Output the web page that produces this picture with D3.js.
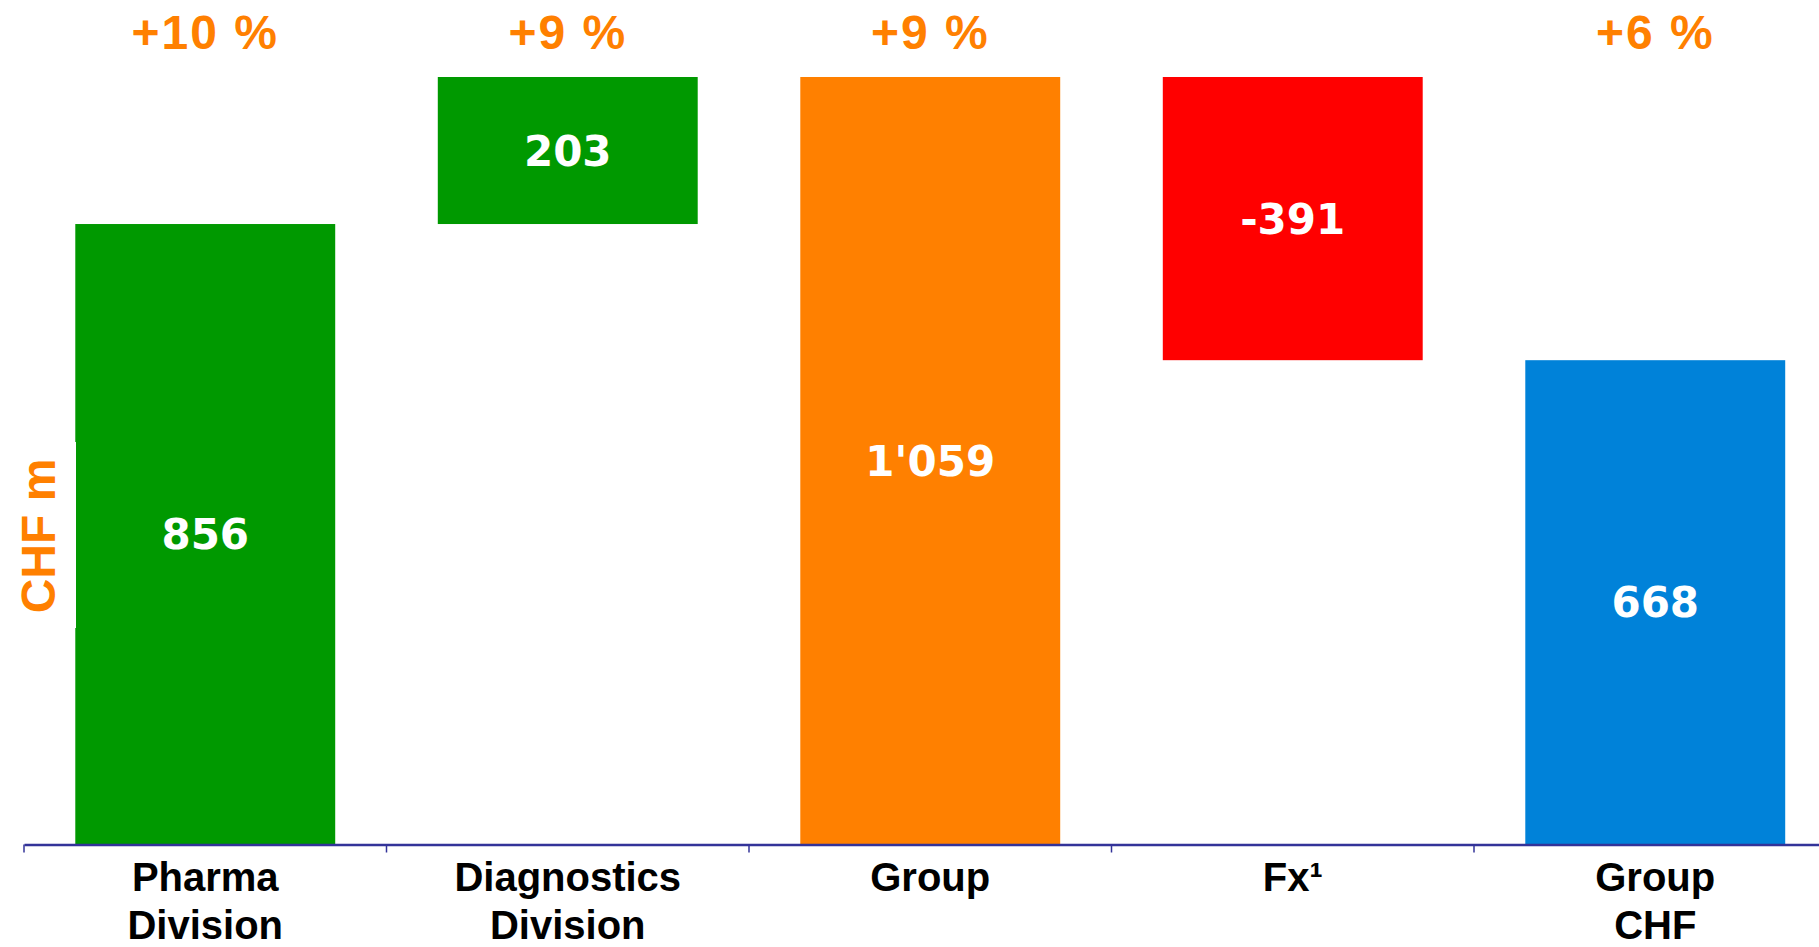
<!DOCTYPE html>
<html>
<head>
<meta charset="utf-8">
<script src="https://cdn.jsdelivr.net/npm/d3@7/dist/d3.min.js"></script>
<style>
  html, body { margin: 0; padding: 0; background: #ffffff; }
  svg { display: block; }
</style>
</head>
<body>
<svg id="chart" width="1819" height="947"></svg>
<script>
// Operating profit bridge, CHF m
const categories = ["Pharma Division", "Diagnostics Division", "Group", "Fx¹", "Group CHF"];
const labelLines = [["Pharma", "Division"], ["Diagnostics", "Division"], ["Group"], ["Fx¹"], ["Group", "CHF"]];
const values = [856, 203, 1059, -391, 668];
const kinds = ["total", "delta", "total", "delta", "total"];
const growth = ["+10 %", "+9 %", "+9 %", "", "+6 %"];
const colors = ["#009900", "#009900", "#ff8000", "#ff0000", "#0082d9"];

const W = 1819, H = 947;
const svg = d3.select("#chart");

// Build floating segments: totals start at zero, deltas start at the running level
let level = 0;
const bars = categories.map((c, i) => {
  const v = values[i];
  let y0, y1;
  if (kinds[i] === "total") { y0 = 0; y1 = v; level = v; }
  else { y0 = level; y1 = level + v; level = y1; }
  return { cat: c, lines: labelLines[i], value: v, lo: Math.min(y0, y1), hi: Math.max(y0, y1), growth: growth[i], color: colors[i] };
});

const axisY = 844;
const x = d3.scaleBand()
  .domain(categories)
  .range([24, 24 + 5 * 362.5])
  .paddingInner(0.283)
  .paddingOuter(0.1415);

const y = d3.scaleLinear()
  .domain([0, d3.max(bars, d => d.hi)])
  .range([axisY, 77]);

const fmt = d3.formatLocale({ decimal: ".", thousands: "'", grouping: [3], currency: ["", ""], minus: "-" }).format(",d");

// Bars
svg.append("g").selectAll("rect")
  .data(bars)
  .join("rect")
  .attr("x", d => x(d.cat))
  .attr("width", x.bandwidth())
  .attr("y", d => y(d.hi))
  .attr("height", d => y(d.lo) - y(d.hi))
  .attr("fill", d => d.color);

// Value labels inside the bars
svg.append("g").selectAll("text")
  .data(bars)
  .join("text")
  .attr("x", d => x(d.cat) + x.bandwidth() / 2)
  .attr("y", d => (y(d.lo) + y(d.hi)) / 2)
  .attr("dy", "0.36em")
  .attr("text-anchor", "middle")
  .attr("fill", "#ffffff")
  .style("font-family", "'DejaVu Sans', Verdana, sans-serif")
  .style("font-weight", "bold")
  .style("font-size", "42px")
  .text(d => fmt(d.value));

// Growth rates above the bars
svg.append("g").selectAll("text")
  .data(bars.filter(d => d.growth))
  .join("text")
  .attr("x", d => x(d.cat) + x.bandwidth() / 2)
  .attr("y", 49)
  .attr("text-anchor", "middle")
  .attr("fill", "#ff8000")
  .style("font-family", "'Liberation Sans', Arial, sans-serif")
  .style("font-weight", "bold")
  .style("font-size", "48px")
  .style("letter-spacing", "2px")
  .text(d => d.growth);

// Category axis
const axis = svg.append("g")
  .attr("transform", `translate(0,${axisY + 0.5})`)
  .call(d3.axisBottom(x).tickSize(0).tickSizeOuter(0).tickFormat(""));
axis.select(".domain")
  .attr("stroke", "#333399")
  .attr("stroke-width", 2.5);

// Tick marks between categories
const bounds = categories.map(c => x(c) + x.bandwidth() / 2 - x.step() / 2);
axis.append("g").selectAll("line")
  .data(bounds)
  .join("line")
  .attr("x1", d => d).attr("x2", d => d)
  .attr("y1", 0).attr("y2", 8)
  .attr("stroke", "#333399")
  .attr("stroke-width", 1.5);

// Category labels (one or two lines)
const catLabels = svg.append("g").selectAll("text")
  .data(bars)
  .join("text")
  .attr("x", d => x(d.cat) + x.bandwidth() / 2)
  .attr("y", 891)
  .attr("text-anchor", "middle")
  .attr("fill", "#000000")
  .style("font-family", "'Liberation Sans', Arial, sans-serif")
  .style("font-weight", "bold")
  .style("font-size", "40px");
catLabels.selectAll("tspan")
  .data(d => d.lines.map(t => ({ t, cx: x(d.cat) + x.bandwidth() / 2 })))
  .join("tspan")
  .attr("x", d => d.cx)
  .attr("dy", (d, i) => i === 0 ? 0 : 48)
  .text(d => d.t);

// Unit title on the left
svg.append("rect")
  .attr("x", 0).attr("y", 442)
  .attr("width", 76).attr("height", 186)
  .attr("fill", "#ffffff");
svg.append("text")
  .attr("transform", "translate(55,536) rotate(-90)")
  .attr("text-anchor", "middle")
  .attr("fill", "#ff8000")
  .style("font-family", "'Liberation Sans', Arial, sans-serif")
  .style("font-weight", "bold")
  .style("font-size", "48px")
  .text("CHF m");
</script>
</body>
</html>
